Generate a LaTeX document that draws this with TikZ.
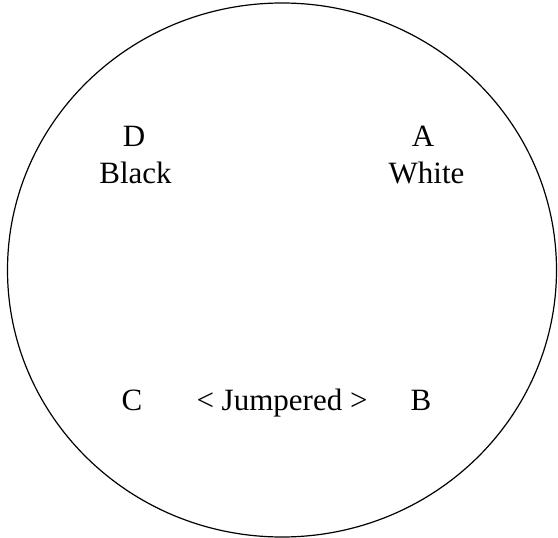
\documentclass[tikz,border=0pt]{standalone}
\usepackage{fontspec}
\setmainfont{Liberation Serif}
\usepackage{tikz}

\begin{document}
\begin{tikzpicture}[every node/.style={font=\fontsize{31}{37}\selectfont, anchor=base, inner sep=0pt}, x=1pt, y=-1pt]
	\useasboundingbox (0,0) rectangle (558,538);
	\draw[line width=1.2pt] (282,270) ellipse [x radius=274.5, y radius=267];
	\node (D) at (134,146) {D};
	\node (black) at (135.5,183) {Black};
	\node (A) at (423,146) {A};
	\node (white) at (426.5,183) {White};
	\node (C) at (132,410) {C};
	\node (jumper) at (282,410) {< Jumpered >};
	\node (B) at (421,410) {B};
\end{tikzpicture}
\end{document}
